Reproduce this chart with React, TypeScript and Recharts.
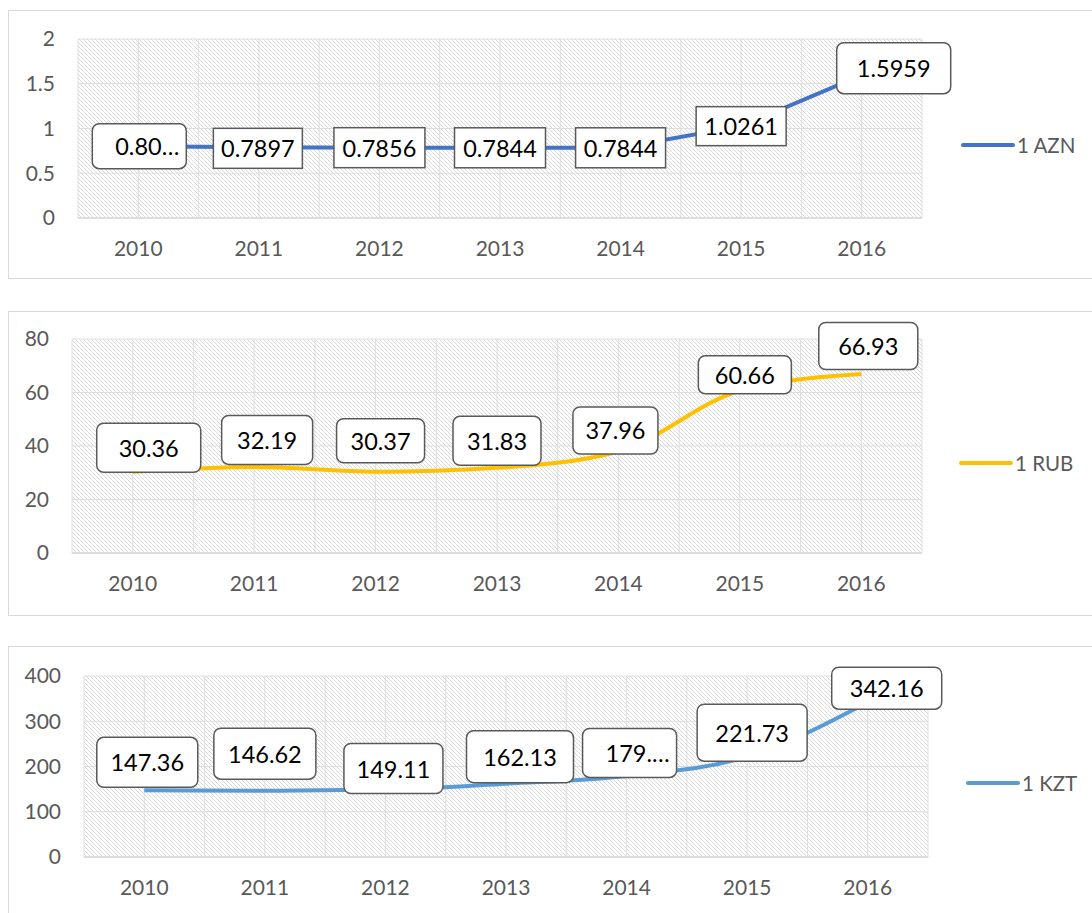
import React from "react";
import { LineChart, Line, XAxis, YAxis, CartesianGrid, Legend, LabelList } from "recharts";

const years = ["2010", "2011", "2012", "2013", "2014", "2015", "2016"];

const aznValues = [0.8027, 0.7897, 0.7856, 0.7844, 0.7844, 1.0261, 1.5959];
const rubValues = [30.36, 32.19, 30.37, 31.83, 37.96, 60.66, 66.93];
const kztValues = [147.36, 146.62, 149.11, 162.13, 179.19, 221.73, 342.16];

const aznTicks = [0, 0.5, 1, 1.5, 2];
const rubTicks = [0, 20, 40, 60, 80];
const kztTicks = [0, 100, 200, 300, 400];

// labels that Excel cut short ("0.80…", "179.…")
const aznCut = [0];
const rubCut: number[] = [];
const kztCut = [4];

// label box placement relative to the point: [dx, dy, w, h, rounded]
const aznBoxes = [
  [1, 0, 94, 45, 1],
  [-1, 1, 89, 40, 0],
  [0, 0, 91, 40, 0],
  [0, 0, 91, 40, 0],
  [0, 0, 90, 40, 0],
  [0, 0, 90, 39, 0],
  [32, -7, 114, 51, 1],
];
const rubBoxes = [
  [16, -24, 104, 49, 1],
  [13, -27, 91, 49, 1],
  [5, -31, 88, 44, 1],
  [0, -27, 88, 49, 1],
  [-3, -21, 85, 47, 1],
  [5, -16, 93, 38, 1],
  [7, -28, 99, 47, 1],
];
const kztBoxes = [
  [3, -28, 101, 50, 1],
  [0, -37, 102, 51, 1],
  [8, -21, 99, 50, 1],
  [14, -27, 107, 52, 1],
  [3, -23, 94, 49, 1],
  [5, -24, 110, 57, 1],
  [19, -14, 110, 42, 1],
];

const FONT = "Lato, 'Open Sans', sans-serif";
const PAGE_W = 1092;
const Y_W = 60;
const X_H = 40;
const LEG_W = 150;

type PanelProps = {
  name: string;
  values: number[];
  ticks: number[];
  color: string;
  smooth: boolean;
  cut: number[];
  boxes: number[][];
  top: number;
  height: number;
  margin: { top: number; right: number; bottom: number; left: number };
  legend: { left: number; top: number };
};

function makeLabel(boxes: number[][], cut: number[]) {
  return (props: any) => {
    const idx = props.index;
    const px = props.x ?? props.viewBox?.x;
    const py = props.y ?? props.viewBox?.y;
    if (px == null || py == null) return null;
    const [dx, dy, w, h, r] = boxes[idx];
    const cx = px + dx;
    const cy = py + dy;
    const isCut = cut.includes(idx);
    const text = isCut ? String(props.value).slice(0, 4) + "\u2026" : String(props.value);
    return (
      <g>
        <rect
          x={cx - w / 2}
          y={cy - h / 2}
          width={w}
          height={h}
          rx={r ? 7 : 0}
          ry={r ? 7 : 0}
          fill="#fff"
          stroke="#595959"
          strokeWidth={1.5}
        />
        <text
          x={isCut ? cx + w / 2 - 7 : cx}
          y={cy}
          textAnchor={isCut ? "end" : "middle"}
          dominantBaseline="central"
          fontSize={23.5}
          fontFamily={FONT}
          fill="#000"
        >
          {text}
        </text>
      </g>
    );
  };
}

function LegendItem(props: any) {
  const item = props.payload && props.payload[0];
  if (!item) return null;
  return (
    <svg width={130} height={24} style={{ display: "block" }}>
      <line x1={5} y1={12} x2={55} y2={12} stroke={item.color} strokeWidth={4} strokeLinecap="round" />
      <text x={59} y={12} dominantBaseline="central" fontSize={20.5} fontFamily={FONT} fill="#595959">
        {item.value}
      </text>
    </svg>
  );
}

function Panel(p: PanelProps) {
  const data = years.map((year, i) => ({ year, v: p.values[i] }));
  const plotW = PAGE_W - p.margin.left - p.margin.right - Y_W - LEG_W;
  const pad = plotW / 14;
  const tickStyle = { fontSize: 21, fill: "#595959", fontFamily: FONT };
  return (
    <div style={{ position: "absolute", left: 0, top: p.top, width: PAGE_W, height: p.height }}>
      <LineChart width={PAGE_W} height={p.height} data={data} margin={p.margin}>
        <CartesianGrid
          stroke="#dedede"
          fill="url(#hatch)"
          fillOpacity={1}
          verticalCoordinatesGenerator={(args: any) => {
            const o = args && args.offset;
            const left = o ? o.left : p.margin.left + Y_W;
            const w = o ? o.width : plotW;
            return Array.from({ length: 15 }, (_, i) => left + (w * i) / 14);
          }}
        />
        <XAxis
          dataKey="year"
          interval={0}
          padding={{ left: pad, right: pad }}
          axisLine={{ stroke: "#d9d9d9", strokeWidth: 1.5 }}
          tickLine={false}
          tickSize={0}
          tickMargin={23}
          height={X_H}
          tick={tickStyle}
        />
        <YAxis
          domain={[p.ticks[0], p.ticks[p.ticks.length - 1]]}
          ticks={p.ticks}
          interval={0}
          axisLine={false}
          tickLine={false}
          tickSize={0}
          tickMargin={23}
          width={Y_W}
          tick={tickStyle}
        />
        <Legend
          layout="vertical"
          align="right"
          verticalAlign="middle"
          width={LEG_W}
          wrapperStyle={{ left: p.legend.left, top: p.legend.top, width: LEG_W }}
          content={<LegendItem />}
        />
        <Line
          name={p.name}
          dataKey="v"
          type={p.smooth ? "monotone" : "linear"}
          stroke={p.color}
          strokeWidth={4}
          dot={false}
          activeDot={false}
          isAnimationActive={false}
        >
          <LabelList dataKey="v" content={makeLabel(p.boxes, p.cut)} />
        </Line>
      </LineChart>
    </div>
  );
}

const border = "1px solid #d9d9d9";

export default function App() {
  return (
    <div
      style={{
        position: "absolute",
        left: 0,
        top: 0,
        width: PAGE_W,
        height: 913,
        overflow: "hidden",
        background: "#fff",
        fontFamily: FONT,
      }}
    >
      <svg width={0} height={0} style={{ position: "absolute" }}>
        <defs>
          <pattern id="hatch" patternUnits="userSpaceOnUse" width={4} height={4}>
            <rect width={4} height={4} fill="#fff" />
            <path d="M-1,-1 L5,5 M-1,3 L1,5 M3,-1 L5,1" stroke="#dadada" strokeWidth={1} />
          </pattern>
        </defs>
      </svg>

      <div style={{ position: "absolute", left: 8, top: 10, width: 1110, height: 269, border, boxSizing: "border-box" }} />
      <div style={{ position: "absolute", left: 8, top: 311, width: 1110, height: 305, border, boxSizing: "border-box" }} />
      <div style={{ position: "absolute", left: 8, top: 646, width: 1110, height: 300, border, boxSizing: "border-box" }} />

      <Panel
        name="1 AZN"
        values={aznValues}
        ticks={aznTicks}
        color="#4472C4"
        smooth={false}
        cut={aznCut}
        boxes={aznBoxes}
        top={0}
        height={290}
        margin={{ top: 39, right: 20, bottom: 32, left: 18 }}
        legend={{ left: 958, top: 133 }}
      />
      <Panel
        name="1 RUB"
        values={rubValues}
        ticks={rubTicks}
        color="#FFC000"
        smooth={true}
        cut={rubCut}
        boxes={rubBoxes}
        top={300}
        height={320}
        margin={{ top: 39, right: 20, bottom: 27, left: 12 }}
        legend={{ left: 956, top: 151 }}
      />
      <Panel
        name="1 KZT"
        values={kztValues}
        ticks={kztTicks}
        color="#5B9BD5"
        smooth={true}
        cut={kztCut}
        boxes={kztBoxes}
        top={630}
        height={283}
        margin={{ top: 46, right: 14, bottom: 16, left: 24 }}
        legend={{ left: 963, top: 141 }}
      />
    </div>
  );
}
